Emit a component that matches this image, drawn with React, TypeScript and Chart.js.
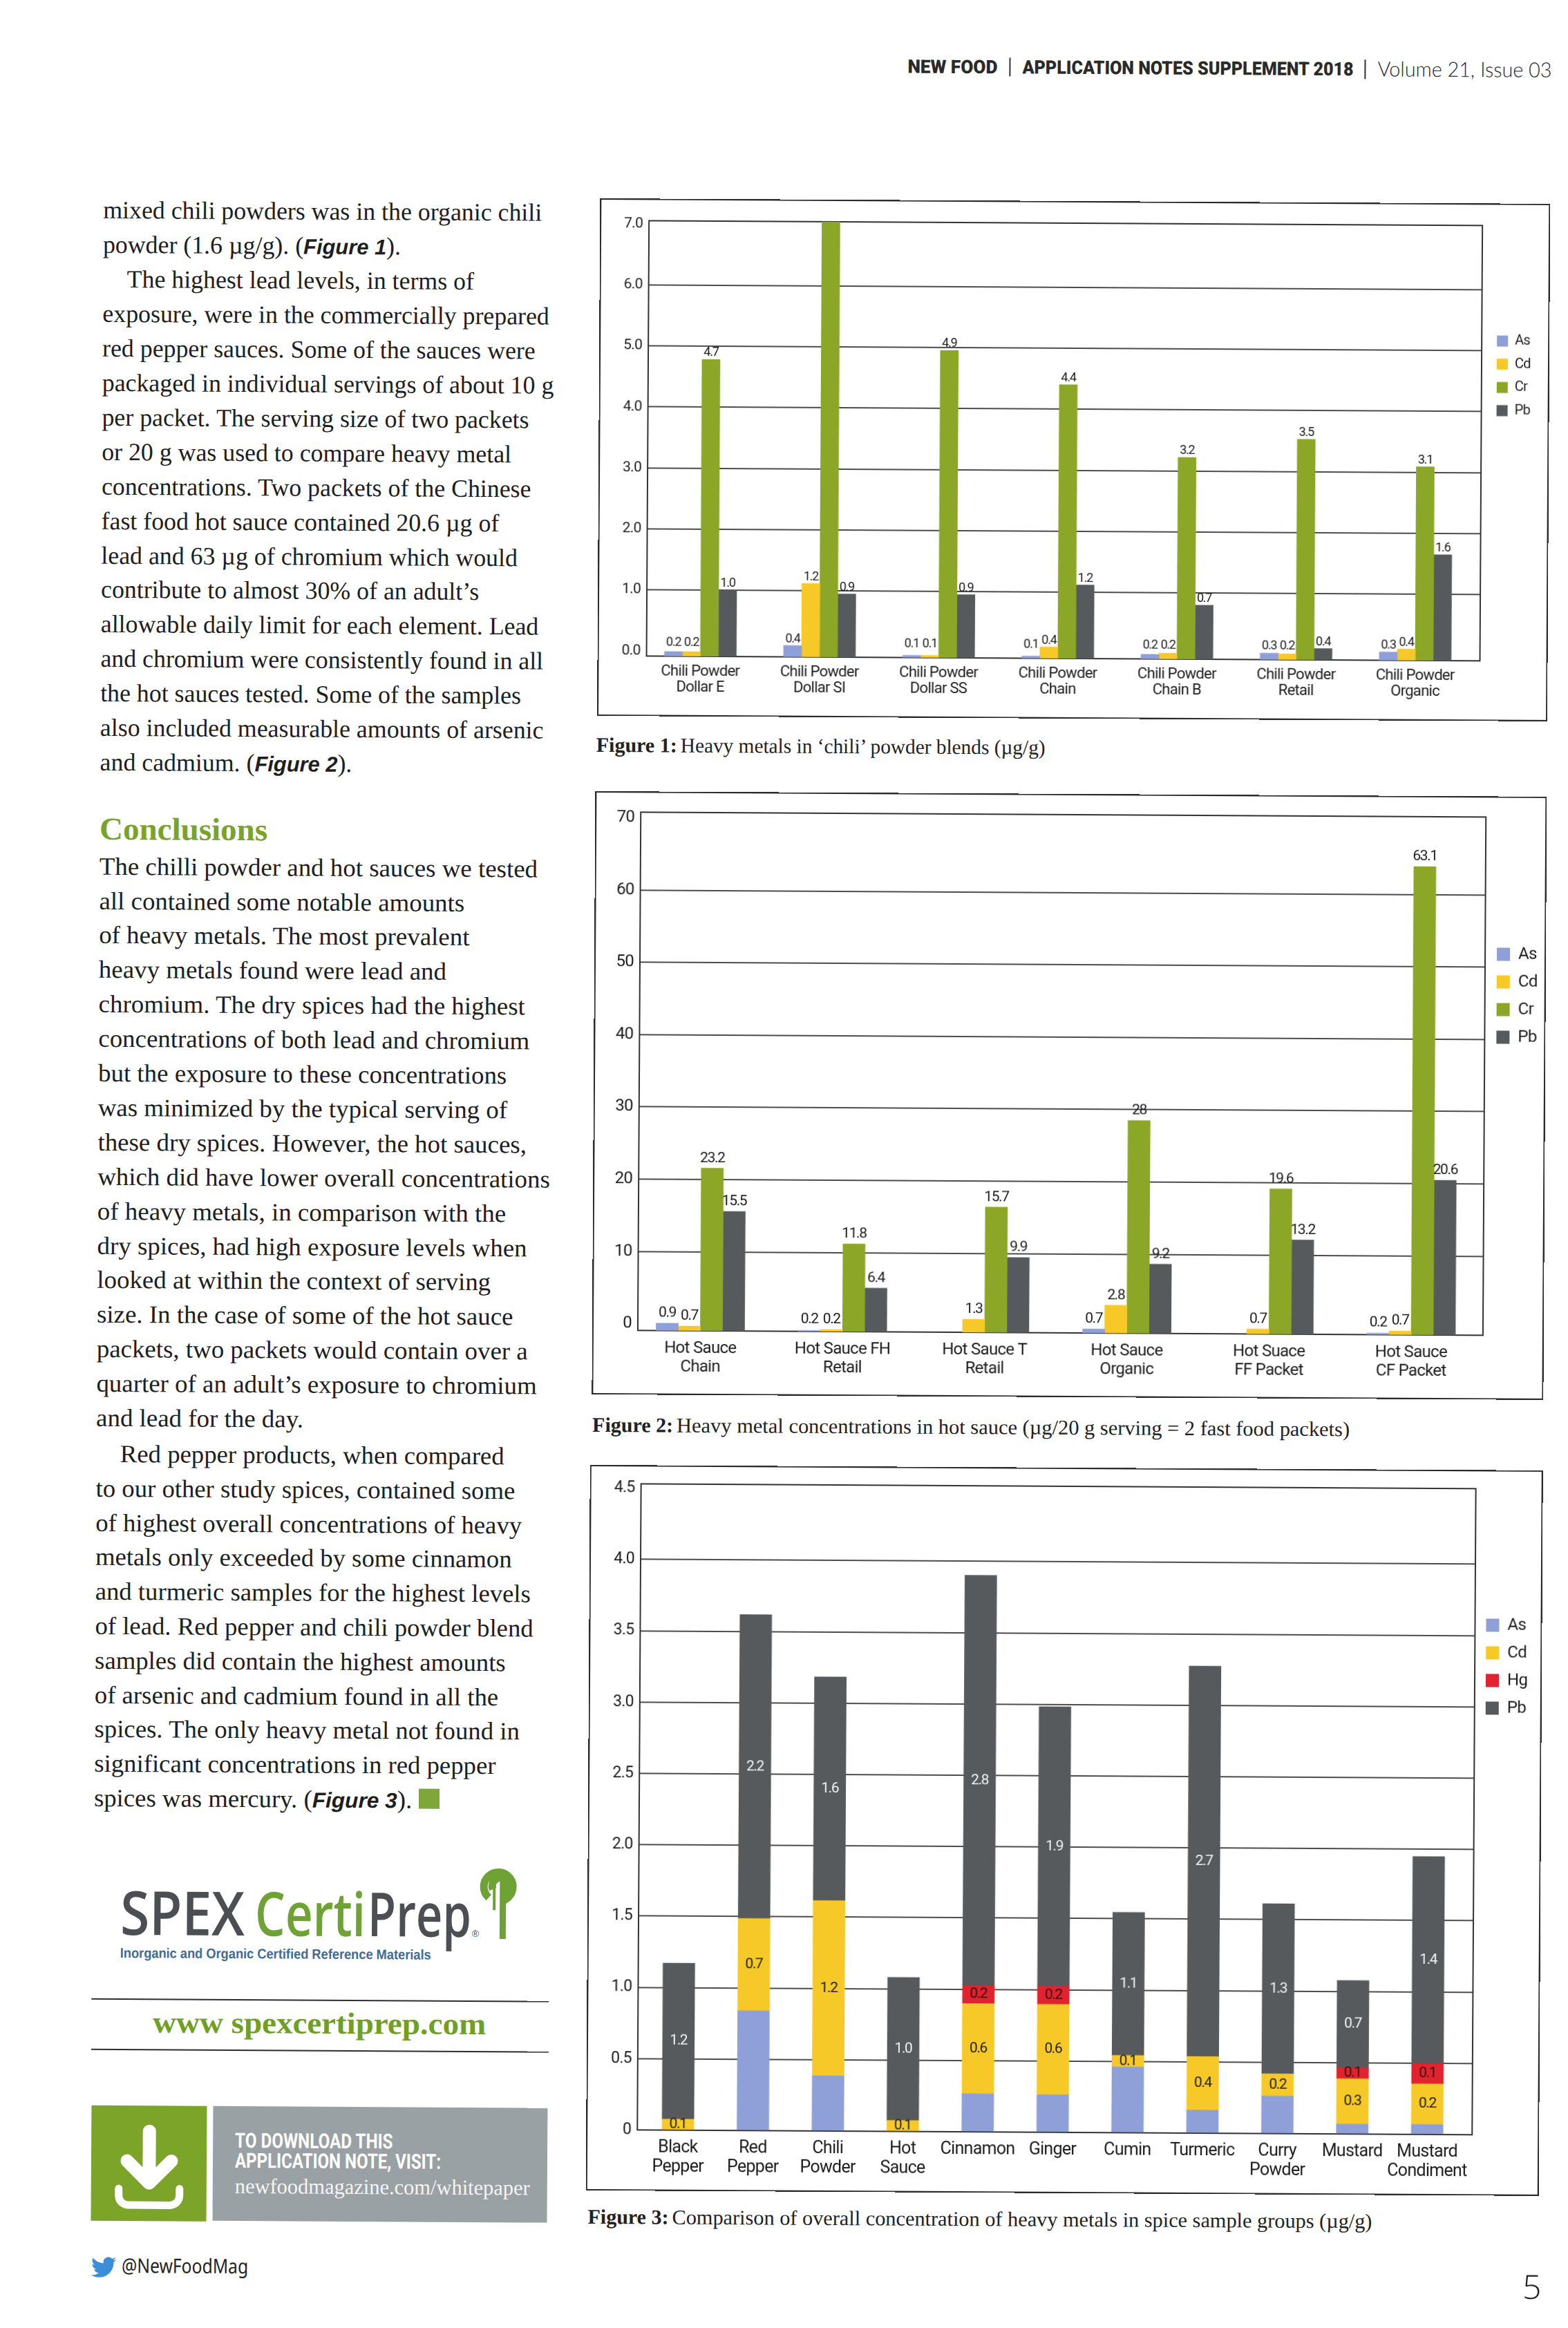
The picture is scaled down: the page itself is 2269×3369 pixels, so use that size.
import React, { useEffect, useRef } from "react";
import { Chart, registerables } from "chart.js";

Chart.register(...registerables);

// ---------- Figure 1 data ----------
const fig1Categories = [
  ["Chili Powder", "Dollar E"], ["Chili Powder", "Dollar SI"], ["Chili Powder", "Dollar SS"], ["Chili Powder", "Chain"],
  ["Chili Powder", "Chain B"], ["Chili Powder", "Retail"], ["Chili Powder", "Organic"],
];
const fig1As = [-0.01, 0.1, -0.05, -0.05, -0.01, 0.02, 0.05];
const fig1Cd = [-0.01, 1.12, -0.05, 0.1, 0.01, 0.01, 0.1];
const fig1Cr = [4.78, 7.05, 4.95, 4.4, 3.22, 3.53, 3.09];
const fig1Pb = [1.0, 0.95, 0.95, 1.12, 0.8, 0.1, 1.65];
const fig1AsText = ["0.2", "0.4", "0.1", "0.1", "0.2", "0.3", "0.3"];
const fig1CdText = ["0.2", "1.2", "0.1", "0.4", "0.2", "0.2", "0.4"];
const fig1CrText = ["4.7", "", "4.9", "4.4", "3.2", "3.5", "3.1"];
const fig1PbText = ["1.0", "0.9", "0.9", "1.2", "0.7", "0.4", "1.6"];
const fig1Ticks = [0, 1, 2, 3, 4, 5, 6, 7];

// ---------- Figure 2 data ----------
const fig2Categories = [
  ["Hot Sauce", "Chain"], ["Hot Sauce FH", "Retail"], ["Hot Sauce T", "Retail"], ["Hot Sauce", "Organic"],
  ["Hot Suace", "FF Packet"], ["Hot Sauce", "CF Packet"],
];
const fig2As = [0.08, -0.8, null, -0.38, null, -0.73];
const fig2Cd = [-0.31, -0.66, 0.88, 2.92, -0.25, -0.41];
const fig2Cr = [21.56, 11.2, 16.4, 28.5, 19.15, 63.85];
const fig2Pb = [15.6, 5.1, 9.46, 8.63, 12.1, 20.47];
const fig2AsText = ["0.9", "0.2", "", "0.7", "", "0.2"];
const fig2CdText = ["0.7", "0.2", "1.3", "2.8", "0.7", "0.7"];
const fig2CrText = ["23.2", "11.8", "15.7", "28", "19.6", "63.1"];
const fig2PbText = ["15.5", "6.4", "9.9", "9.2", "13.2", "20.6"];
const fig2Ticks = [0, 10, 20, 30, 40, 50, 60, 70];

// ---------- Figure 3 data ----------
const fig3Categories = [
  ["Black", "Pepper"], ["Red", "Pepper"], ["Chili", "Powder"], ["Hot", "Sauce"], "Cinnamon", "Ginger", "Cumin", "Turmeric",
  ["Curry", "Powder"], "Mustard", ["Mustard", "Condiment"],
];
const fig3As = [null, 0.84, 0.387, null, 0.267, 0.264, 0.461, 0.162, 0.264, 0.07, 0.07];
const fig3Cd = [0.077, 0.647, 1.228, 0.077, 0.633, 0.633, 0.081, 0.376, 0.155, 0.317, 0.285];
const fig3Hg = [null, null, null, null, 0.127, 0.127, null, null, null, 0.077, 0.141];
const fig3Pb = [1.094, 2.13, 1.569, 1.003, 2.875, 1.96, 1.003, 2.737, 1.193, 0.612, 1.453];
const fig3CdText = ["0.1", "0.7", "1.2", "0.1", "0.6", "0.6", "0.1", "0.4", "0.2", "0.3", "0.2"];
const fig3HgText = ["", "", "", "", "0.2", "0.2", "", "", "", "0.1", "0.1"];
const fig3PbText = ["1.2", "2.2", "1.6", "1.0", "2.8", "1.9", "1.1", "2.7", "1.3", "0.7", "1.4"];
const fig3Ticks = [0, 0.5, 1, 1.5, 2, 2.5, 3, 3.5, 4, 4.5];

// ---------- Page text ----------
const columnA = [
  "mixed chili powders was in the organic chili", "powder (1.6 µg/g). ({Figure 1}).", "\tThe highest lead levels, in terms of",
  "exposure, were in the commercially prepared", "red pepper sauces. Some of the sauces were", "packaged in individual servings of about 10 g",
  "per packet. The serving size of two packets", "or 20 g was used to compare heavy metal", "concentrations. Two packets of the Chinese",
  "fast food hot sauce contained 20.6 µg of", "lead and 63 µg of chromium which would", "contribute to almost 30% of an adult’s",
  "allowable daily limit for each element. Lead", "and chromium were consistently found in all", "the hot sauces tested. Some of the samples",
  "also included measurable amounts of arsenic", "and cadmium. ({Figure 2}).",
];
const columnB = [
  "The chilli powder and hot sauces we tested", "all contained some notable amounts", "of heavy metals. The most prevalent",
  "heavy metals found were lead and", "chromium. The dry spices had the highest", "concentrations of both lead and chromium",
  "but the exposure to these concentrations", "was minimized by the typical serving of", "these dry spices. However, the hot sauces,",
  "which did have lower overall concentrations", "of heavy metals, in comparison with the", "dry spices, had high exposure levels when",
  "looked at within the context of serving", "size. In the case of some of the hot sauce", "packets, two packets would contain over a",
  "quarter of an adult’s exposure to chromium", "and lead for the day.",
];
const columnC = [
  "\tRed pepper products, when compared", "to our other study spices, contained some", "of highest overall concentrations of heavy",
  "metals only exceeded by some cinnamon", "and turmeric samples for the highest levels", "of lead. Red pepper and chili powder blend",
  "samples did contain the highest amounts", "of arsenic and cadmium found in all the", "spices. The only heavy metal not found in",
  "significant concentrations in red pepper", "spices was mercury. ({Figure 3}).",
];

// ---------- Colours and fonts ----------
const AS = "#8f9fd8";
const CD = "#f6c928";
const CR = "#8ca727";
const PB = "#565a5c";
const HG = "#e0232e";
const GREEN = "#7ba428";
const CHART_FONT = "Roboto, sans-serif";
const SERIF = '"Liberation Serif", serif';
const SANS = '"Liberation Sans", sans-serif';

// ---------- Chart plugins ----------
const plotFrame = {
  id: "plotFrame",
  beforeDraw(chart: any, _a: any, o: any) {
    chart.ctx.letterSpacing = o.spacing;
  },
  beforeDatasetsDraw(chart: any) {
    const { ctx, chartArea: a } = chart;
    ctx.save();
    ctx.strokeStyle = "#333";
    ctx.lineWidth = 2;
    ctx.strokeRect(a.left, a.top, a.right - a.left, a.bottom - a.top);
    ctx.restore();
  },
};

const placedLegend = {
  id: "placedLegend",
  beforeLayout(chart: any) {
    const l = chart.legend;
    if (l && !l.__placed) {
      const fit = l.fit;
      l.fit = function () { fit.call(this); this.width = 0; };
      l.__placed = true;
    }
  },
  afterLayout(chart: any, _a: any, o: any) {
    const l = chart.legend;
    if (!l) return;
    l.left = o.x - o.padding;
    l.right = chart.width;
    l.top = o.y - o.padding - o.inset;
    l.bottom = chart.height;
  },
};

const valueLabels = {
  id: "valueLabels",
  afterDatasetsDraw(chart: any, _a: any, o: any) {
    const { ctx } = chart;
    ctx.save();
    ctx.font = o.font;
    ctx.letterSpacing = o.spacing;
    ctx.textAlign = "center";
    chart.data.datasets.forEach((_ds: any, di: number) => {
      const texts = o.texts[di];
      if (!texts) return;
      chart.getDatasetMeta(di).data.forEach((bar: any, i: number) => {
        if (!texts[i]) return;
        if (o.mode === "center") {
          ctx.fillStyle = o.colors[di];
          ctx.textBaseline = "middle";
          ctx.fillText(texts[i], bar.x, (bar.y + bar.base) / 2);
        } else {
          ctx.fillStyle = "#1a1a1a";
          ctx.textBaseline = "alphabetic";
          ctx.fillText(texts[i], bar.x, Math.min(bar.y - o.gap, chart.scales.y.bottom - o.floor));
        }
      });
    });
    ctx.restore();
  },
};

type Fig = {
  frame: number[]; plot: number[]; legendAt: number[]; box: number; legendFont: number; legendPad: number;
  xRange: number[]; yRange: number[]; yTicks: number[]; yFmt: (v: number) => string; yFont: number; xFont: number;
  xLine: number; xPad: number; spacing: string; categories: any[]; series: any[]; barW: number; stacked: boolean; labelOpts: any;
};

function BarFigure({ fig }: { fig: Fig }) {
  const ref = useRef<HTMLCanvasElement | null>(null);
  const [fx0, fy0, fx1, fy1] = fig.frame;
  const [px0, py0, px1, py1] = fig.plot;
  const W = fx1 - fx0;
  const H = fy1 - fy0;
  useEffect(() => {
    const yTop = fig.yTicks[fig.yTicks.length - 1];
    const chart = new Chart(ref.current as any, {
      type: "bar",
      data: {
        datasets: fig.series.map((s) => ({
          label: s.label,
          data: s.data.map((y: number | null, x: number) => ({ x, y })),
          backgroundColor: s.color,
          borderWidth: 0,
          barThickness: fig.barW,
          base: fig.stacked ? undefined : fig.yRange[0],
        })),
      },
      plugins: [plotFrame, placedLegend, valueLabels],
      options: {
        animation: false,
        responsive: false,
        devicePixelRatio: 1,
        layout: { autoPadding: false, padding: { left: 0, top: py0 - fy0, right: fx1 - px1, bottom: 0 } },
        scales: {
          x: {
            type: "linear",
            offset: false,
            stacked: fig.stacked,
            min: fig.xRange[0],
            max: fig.xRange[1],
            border: { display: false },
            grid: { display: false, drawTicks: false, offset: false },
            afterBuildTicks: (s: any) => { s.ticks = fig.categories.map((_c, i) => ({ value: i })); },
            afterFit: (s: any) => { s.height = fy1 - py1; },
            ticks: {
              autoSkip: false, maxRotation: 0, minRotation: 0, padding: fig.xPad, color: "#1c1c1c",
              font: { family: CHART_FONT, size: fig.xFont, lineHeight: fig.xLine },
              callback: (v: any) => fig.categories[v],
            },
          },
          y: {
            type: "linear",
            stacked: fig.stacked,
            min: fig.yRange[0],
            max: fig.yRange[1],
            border: { display: false },
            grid: {
              drawTicks: false,
              lineWidth: 2,
              color: (c: any) => (c.tick && (c.tick.value === 0 || c.tick.value === yTop) ? "rgba(0,0,0,0)" : "#4d4d4d"),
            },
            afterBuildTicks: (s: any) => { s.ticks = fig.yTicks.map((value) => ({ value })); },
            afterFit: (s: any) => { s.width = px0 - fx0; },
            ticks: {
              padding: 9, color: "#1c1c1c", font: { family: CHART_FONT, size: fig.yFont },
              callback: (v: any) => fig.yFmt(v),
            },
          },
        },
        plugins: {
          title: { display: false },
          tooltip: { enabled: false },
          plotFrame: { spacing: fig.spacing },
          legend: {
            position: "right",
            align: "start",
            labels: {
              boxWidth: fig.box, boxHeight: fig.box, padding: fig.legendPad, color: "#1c1c1c",
              font: { family: CHART_FONT, size: fig.legendFont },
            },
          },
          placedLegend: {
            x: fig.legendAt[0] - fx0, y: fig.legendAt[1] - fy0, padding: fig.legendPad,
            inset: (Math.max(fig.box, fig.legendFont) - fig.box) / 2,
          },
          valueLabels: fig.labelOpts,
        },
      } as any,
    });
    return () => chart.destroy();
  }, []);
  return (
    <>
      <canvas ref={ref} width={W} height={H} style={{ position: "absolute", left: fx0, top: fy0, width: W, height: H, display: "block" }} />
      <div style={{ position: "absolute", left: fx0, top: fy0, width: W, height: H, boxSizing: "border-box", border: "2px solid #2b2b2b" }} />
    </>
  );
}

// ---------- Text placed by baseline ----------
const measureCtx = document.createElement("canvas").getContext("2d") as CanvasRenderingContext2D;
function T({ x, y, size, family, weight = 400, italic = false, color = "#1e1e1e", w, sx = 1, children }: any) {
  const font = `${italic ? "italic " : ""}${weight} ${size}px ${family}`;
  measureCtx.font = font;
  const m = measureCtx.measureText(typeof children === "string" ? children : "");
  const A = m.fontBoundingBoxAscent;
  const D = m.fontBoundingBoxDescent;
  const top = y - A - (size - A - D) / 2;
  const scale = w && m.width ? w / m.width : sx;
  return (
    <div style={{
      position: "absolute", left: x, top, font, lineHeight: `${size}px`, color, whiteSpace: "pre",
      transform: `scaleX(${scale})`, transformOrigin: "0 0",
    }}>{children}</div>
  );
}

const BODY_SIZE = 36;
function BodyLine({ x, y, text, sx }: { x: number; y: number; text: string; sx: number }) {
  const indented = text.startsWith("\t");
  const clean = text.replace("\t", "");
  const parts = clean.split(/(\{.*?\})/);
  return (
    <T x={indented ? x + 35 : x} y={y} size={BODY_SIZE} family={SERIF} sx={sx}>
      {parts.map((p, i) =>
        p.startsWith("{") ? (
          <span key={i} style={{ font: `italic 700 ${BODY_SIZE - 5}px ${SANS}` }}>{p.slice(1, -1)}</span>
        ) : (
          <span key={i}>{p}</span>
        ),
      )}
    </T>
  );
}

const oneDecimal = (v: number) => v.toFixed(1);

const figures: Fig[] = [
  {
    frame: [870, 282, 2245, 1031], plot: [941, 314, 2147, 944], legendAt: [2169, 473], box: 16, legendFont: 20, legendPad: 13.6,
    xRange: [-0.452, 6.543], yRange: [-0.086, 7.05], yTicks: fig1Ticks, yFmt: oneDecimal, yFont: 21, xFont: 22, xLine: 1.05, xPad: 11,
    spacing: "-0.7px", categories: fig1Categories, barW: 26, stacked: false,
    series: [
      { label: "As", data: fig1As, color: AS }, { label: "Cd", data: fig1Cd, color: CD },
      { label: "Cr", data: fig1Cr, color: CR }, { label: "Pb", data: fig1Pb, color: PB },
    ],
    labelOpts: { font: `18px ${CHART_FONT}`, spacing: "-1.2px", mode: "above", gap: 5, floor: 15, texts: [fig1AsText, fig1CdText, fig1CrText, fig1PbText] },
  },
  {
    frame: [868, 1140, 2245, 2013], plot: [934, 1170, 2157, 1920], legendAt: [2174, 1359], box: 19, legendFont: 24, legendPad: 16,
    xRange: [-0.44, 5.505], yRange: [-0.94, 70.77], yTicks: fig2Ticks, yFmt: (v) => String(v), yFont: 24, xFont: 24, xLine: 1.15, xPad: 12,
    spacing: "-0.7px", categories: fig2Categories, barW: 32, stacked: false,
    series: [
      { label: "As", data: fig2As, color: AS }, { label: "Cd", data: fig2Cd, color: CD },
      { label: "Cr", data: fig2Cr, color: CR }, { label: "Pb", data: fig2Pb, color: PB },
    ],
    labelOpts: { font: `21px ${CHART_FONT}`, spacing: "-1.4px", mode: "above", gap: 9, floor: 12, texts: [fig2AsText, fig2CdText, fig2CrText, fig2PbText] },
  },
  {
    frame: [866, 2115, 2245, 3165], plot: [940, 2142, 2148, 3077], legendAt: [2164, 2330], box: 19, legendFont: 24, legendPad: 16,
    xRange: [-0.5424, 10.6], yRange: [0, 4.53], yTicks: fig3Ticks, yFmt: (v) => (v === 0 ? "0" : v.toFixed(1)), yFont: 23, xFont: 25, xLine: 1.1, xPad: 12,
    spacing: "-0.7px", categories: fig3Categories, barW: 46, stacked: true,
    series: [
      { label: "As", data: fig3As, color: AS }, { label: "Cd", data: fig3Cd, color: CD },
      { label: "Hg", data: fig3Hg, color: HG }, { label: "Pb", data: fig3Pb, color: PB },
    ],
    labelOpts: {
      font: `21px ${CHART_FONT}`, spacing: "-1.4px", mode: "center", colors: ["#111", "#222", "#3a1010", "#f4f4f4"],
      texts: [[], fig3CdText, fig3HgText, fig3PbText],
    },
  },
];

function Caption({ x, y, n, rest, w }: any) {
  return (
    <div style={{ position: "absolute", left: 0, top: 0 }}>
      <T x={x} y={y} size={30} family={SERIF} weight={700} color="#222">{`Figure ${n}:`}</T>
      <T x={x + 122} y={y} size={30} family={SERIF} color="#222" w={w}>{rest}</T>
    </div>
  );
}

export default function App() {
  return (
    <div style={{ position: "absolute", left: 0, top: 0, width: 2269, height: 3369, overflow: "hidden", background: "#fff" }}>
      <div style={{ position: "absolute", left: 0, top: 0, width: 2269, height: 3369, transform: "rotate(0.33deg)", transformOrigin: "0 0" }}>
        {/* Header */}
        <T x={1314} y={98} size={27} family="Roboto" weight={900} color="#2a2a2a" w={130}>NEW FOOD</T>
        <div style={{ position: "absolute", left: 1461, top: 75, width: 2, height: 27, background: "#333" }} />
        <T x={1480} y={98} size={27} family="Roboto" weight={900} color="#2a2a2a" w={480}>APPLICATION NOTES SUPPLEMENT 2018</T>
        <div style={{ position: "absolute", left: 1975, top: 75, width: 2, height: 28, background: "#333" }} />
        <T x={1994} y={99} size={30} family="Lato" weight={300} color="#2a2a2a" w={252}>Volume 21, Issue 03</T>

        {/* Left column */}
        {columnA.map((t, i) => <BodyLine key={"a" + i} x={151} y={315 + i * 49.95} text={t} sx={0.995} />)}
        <T x={151} y={1214} size={46} family={SERIF} weight={700} color="#7aa32a" w={243}>Conclusions</T>
        {columnB.map((t, i) => <BodyLine key={"b" + i} x={151} y={1264.6 + i * 49.9} text={t} sx={1.025} />)}
        {columnC.map((t, i) => <BodyLine key={"c" + i} x={151} y={2115 + i * 49.8} text={t} sx={1.02} />)}
        <div style={{ position: "absolute", left: 621, top: 2585, width: 30, height: 29, background: "#7fa63a" }} />

        {/* Logo */}
        <T x={190} y={2799} size={88} family='"Open Sans"' weight={600} color="#4b4e52" w={180}>SPEX</T>
        <T x={385} y={2799} size={88} family='"Open Sans"' weight={600} color="#6ea234" w={160}>Certi</T>
        <T x={548} y={2799} size={88} family='"Open Sans"' weight={600} color="#4b4e52" w={150}>Prep</T>
        <T x={699} y={2799} size={14} family={SANS} color="#4b4e52">®</T>
        <svg style={{ position: "absolute", left: 709, top: 2694, width: 58, height: 108 }} viewBox="0 0 58 108">
          <path d="M14 48 A21 21 0 1 1 39 50 L39 40 A12 12 0 1 0 20 36" fill="none" stroke="#6ea234" strokeWidth="11" />
          <rect x="20" y="16" width="4" height="50" fill="#6ea234" />
          <rect x="30" y="16" width="9" height="92" fill="#6ea234" />
        </svg>
        <T x={190} y={2832} size={20} family={SANS} weight={700} color="#3f6c97" w={450}>Inorganic and Organic Certified Reference Materials</T>
        <div style={{ position: "absolute", left: 149, top: 2891, width: 662, height: 2, background: "#2e2e2e" }} />
        <T x={238} y={2940} size={44} family={SERIF} weight={700} color="#6fa024" w={482}>www spexcertiprep.com</T>
        <div style={{ position: "absolute", left: 149, top: 2964, width: 662, height: 2, background: "#2e2e2e" }} />

        {/* Download box */}
        <div style={{ position: "absolute", left: 150, top: 3046, width: 167, height: 167, background: GREEN }}>
          <svg width="167" height="167" viewBox="0 0 167 167">
            <path d="M84 37 V105 M52 80 L84 112 L116 80" fill="none" stroke="#fff" strokeWidth="19" strokeLinecap="round" strokeLinejoin="round" />
            <path d="M40 120 V130 A14 14 0 0 0 54 144 H114 A14 14 0 0 0 128 130 V120" fill="none" stroke="#fff" strokeWidth="11" strokeLinecap="round" />
          </svg>
        </div>
        <div style={{ position: "absolute", left: 326, top: 3046, width: 484, height: 166, background: "#9aa1a5" }} />
        <T x={358} y={3106} size={30} family="Roboto" weight={700} color="#fff" w={229}>TO DOWNLOAD THIS</T>
        <T x={358} y={3135} size={30} family="Roboto" weight={700} color="#fff" w={298}>APPLICATION NOTE, VISIT:</T>
        <T x={358} y={3172} size={31} family={SERIF} color="#f4f4f4" w={427}>newfoodmagazine.com/whitepaper</T>

        {/* Twitter */}
        <svg style={{ position: "absolute", left: 151, top: 3262, width: 36, height: 36 }} viewBox="0 0 24 24">
          <path fill="#3b8fd9" d="M23.95 4.57a10 10 0 0 1-2.82.77 4.96 4.96 0 0 0 2.16-2.72c-.95.55-2 .96-3.12 1.18a4.92 4.92 0 0 0-8.38 4.48C7.69 8.1 4.07 6.13 1.64 3.16a4.82 4.82 0 0 0-.67 2.48c0 1.71.87 3.22 2.19 4.1a4.9 4.9 0 0 1-2.23-.61v.06c0 2.38 1.7 4.37 3.95 4.83a4.97 4.97 0 0 1-2.21.08c.63 1.96 2.45 3.39 4.6 3.43A9.9 9.9 0 0 1 0 19.54a14 14 0 0 0 7.56 2.21c9.05 0 14-7.5 14-14 0-.21 0-.42-.02-.63a10 10 0 0 0 2.46-2.55z" />
        </svg>
        <T x={195} y={3288} size={29} family='"Noto Sans"' color="#222" w={183}>@NewFoodMag</T>

        {/* Figures */}
        <BarFigure fig={figures[0]} />
        <Caption x={869} y={1083} n={1} w={530} rest="Heavy metals in ‘chili’ powder blends (µg/g)" />
        <BarFigure fig={figures[1]} />
        <Caption x={869} y={2067} n={2} w={974} rest="Heavy metal concentrations in hot sauce (µg/20 g serving = 2 fast food packets)" />
        <BarFigure fig={figures[2]} />
        <Caption x={869} y={3213} n={3} w={1013} rest="Comparison of overall concentration of heavy metals in spice sample groups (µg/g)" />

        <T x={2222} y={3314} size={48} family='"Open Sans"' weight={300} color="#222">5</T>
      </div>
    </div>
  );
}
